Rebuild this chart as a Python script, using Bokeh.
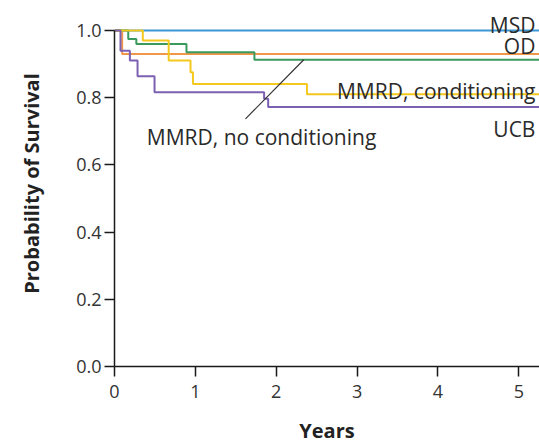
from bokeh.plotting import figure
from bokeh.models import FixedTicker, NumeralTickFormatter, Range1d
from bokeh.embed import file_html
from bokeh.resources import INLINE
from bokeh.core.properties import value

# ---- data ----
x_ticks = [0, 1, 2, 3, 4, 5]
y_ticks = [0.0, 0.2, 0.4, 0.6, 0.8, 1.0]

msd_years = [0.0, 5.5]
msd_surv = [1.0, 1.0]

od_years = [0.0, 0.095, 5.5]
od_surv = [1.0, 0.930, 0.930]

mmrd_nc_years = [0.0, 0.17, 0.27, 0.89, 1.73, 5.5]
mmrd_nc_surv = [1.0, 0.975, 0.960, 0.935, 0.913, 0.913]

mmrd_c_years = [0.0, 0.35, 0.67, 0.94, 0.97, 2.38, 5.5]
mmrd_c_surv = [1.0, 0.970, 0.911, 0.876, 0.841, 0.810, 0.810]

ucb_years = [0.0, 0.074, 0.19, 0.285, 0.495, 1.85, 1.90, 5.5]
ucb_surv = [1.0, 0.940, 0.911, 0.864, 0.816, 0.797, 0.772, 0.772]

right_labels = ["MSD", "OD", "MMRD, conditioning", "UCB"]
left_labels = ["MMRD, no conditioning"]
x_title = "Years"
y_title = "Probability of Survival"

# ---- layout / style ----
right_label_x = [5.205, 5.205, 5.205, 5.205]
right_label_y = [1.015, 0.955, 0.821, 0.707]
left_label_x = [0.40]
left_label_y = [0.682]
pointer_x = [2.34, 1.62]
pointer_y = [0.913, 0.737]

FONT = "Open Sans"
x_end = 425 / 80.87
y_end = 366 / 336

p = figure(width=539, height=446, output_backend="svg", toolbar_location=None,
           x_range=Range1d(0, x_end), y_range=Range1d(0, y_end),
           min_border_left=114, min_border_right=0, min_border_top=0,
           min_border_bottom=80)
p.outline_line_color = None
p.xgrid.visible = False
p.ygrid.visible = False
p.background_fill_color = "white"
p.border_fill_color = "white"

series = [
    (msd_years, msd_surv, "#3b97d6"),
    (od_years, od_surv, "#f0974a"),
    (mmrd_nc_years, mmrd_nc_surv, "#3a9a5e"),
    (mmrd_c_years, mmrd_c_surv, "#f4c81c"),
    (ucb_years, ucb_surv, "#7c60b2"),
]
for xs, ys, col in series:
    p.step(xs, ys, mode="after", line_color=col, line_width=2)

p.line(pointer_x, pointer_y, line_color="#333333", line_width=1.2)

p.text(x=right_label_x, y=right_label_y, text=right_labels, text_font=value(FONT),
       text_font_size="21px", text_color="#2a2a2a", text_baseline="alphabetic",
       text_align="right")
p.text(x=left_label_x, y=left_label_y, text=left_labels, text_font=value(FONT),
       text_font_size="21px", text_color="#2a2a2a", text_baseline="alphabetic",
       text_align="left")

for ax in (p.xaxis[0], p.yaxis[0]):
    ax.axis_line_color = "#1a1a1a"
    ax.axis_line_width = 1.5
    ax.major_tick_line_color = "#1a1a1a"
    ax.major_tick_line_width = 1.5
    ax.major_tick_out = 10
    ax.major_tick_in = 0
    ax.minor_tick_line_color = None
    ax.major_label_text_font = FONT
    ax.major_label_text_font_size = "18px"
    ax.major_label_text_color = "#333333"
    ax.axis_label_text_font = FONT
    ax.axis_label_text_font_size = "20px"
    ax.axis_label_text_font_style = "bold"
    ax.axis_label_text_color = "#222222"

p.xaxis.ticker = FixedTicker(ticks=x_ticks)
p.xaxis.formatter = NumeralTickFormatter(format="0")
p.xaxis.axis_label = x_title
p.xaxis.major_label_standoff = 8
p.xaxis.axis_label_standoff = 16

p.yaxis.ticker = FixedTicker(ticks=y_ticks)
p.yaxis.formatter = NumeralTickFormatter(format="0.0")
p.yaxis.bounds = (0, 1)
p.yaxis.axis_label = y_title
p.yaxis.major_label_standoff = 3
p.yaxis.axis_label_standoff = 28

open("out.html", "w").write(file_html(p, INLINE))
